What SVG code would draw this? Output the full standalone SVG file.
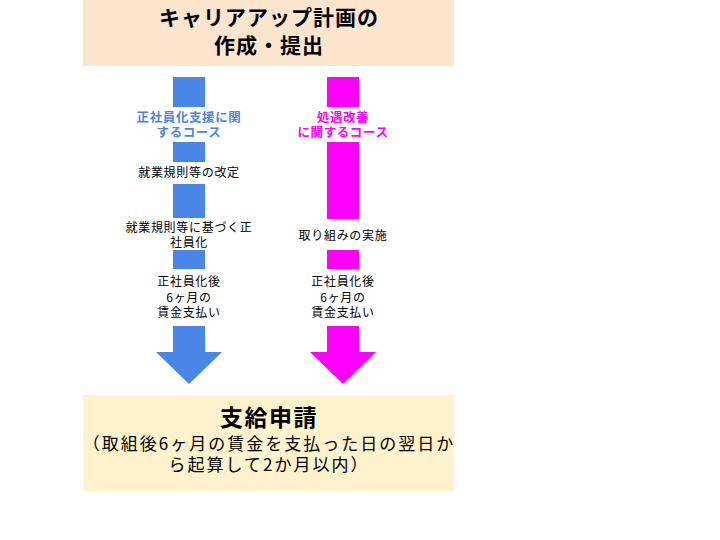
<svg xmlns="http://www.w3.org/2000/svg" width="720" height="540" viewBox="0 0 720 540">
<style>
text{font-family:"Noto Sans CJK JP","Liberation Sans",sans-serif;text-anchor:middle;fill:#000}
.title{font-size:21px;font-weight:bold;letter-spacing:1px}
.sm{font-size:12px;letter-spacing:0.7px}
.bl{font-size:12.5px;font-weight:bold;fill:#4a86e8;letter-spacing:0.6px}
.mg{font-size:12.5px;font-weight:bold;fill:#ff00ff;letter-spacing:0.6px}
.sub{font-size:17px;letter-spacing:2px}
.blue{fill:#4a86e8}
.mag{fill:#ff00ff}
</style>
<rect width="720" height="540" fill="#fff"/>
<g id="top">
<rect x="83" y="0" width="371" height="66" fill="#fce5cd"/>
<text class="title" x="269" y="25">キャリアアップ計画の</text>
<text class="title" x="269" y="53">作成・提出</text>
</g>
<g id="connectors">
<rect class="blue" x="173" y="77" width="32" height="30"/>
<rect class="blue" x="173" y="142" width="32" height="20"/>
<rect class="blue" x="173" y="184" width="32" height="34"/>
<rect class="blue" x="173" y="250" width="32" height="19"/>
<polygon class="blue" points="173,326 205,326 205,352 222,352 189,384 156,352 173,352"/>
<rect class="mag" x="327" y="77" width="32" height="30"/>
<rect class="mag" x="327" y="142" width="32" height="77"/>
<rect class="mag" x="327" y="250" width="32" height="19"/>
<polygon class="mag" points="327,326 359,326 359,352 376,352 343,384 310,352 327,352"/>
</g>
<g id="blue-course">
<text class="bl" x="189" y="122">正社員化支援に関</text>
<text class="bl" x="189" y="137">するコース</text>
<text class="sm" x="189" y="177">就業規則等の改定</text>
<text class="sm" x="189" y="232">就業規則等に基づく正</text>
<text class="sm" x="189" y="247">社員化</text>
<text class="sm" x="189" y="286">正社員化後</text>
<text class="sm" x="189" y="302">6ヶ月の</text>
<text class="sm" x="189" y="317">賃金支払い</text>
</g>
<g id="mag-course">
<text class="mg" x="343" y="122">処遇改善</text>
<text class="mg" x="343" y="137">に関するコース</text>
<text class="sm" x="343" y="240">取り組みの実施</text>
<text class="sm" x="343" y="286">正社員化後</text>
<text class="sm" x="343" y="302">6ヶ月の</text>
<text class="sm" x="343" y="317">賃金支払い</text>
</g>
<g id="bottom">
<rect x="83" y="395" width="371" height="96" fill="#fff2cc"/>
<text class="title" x="269" y="426" style="font-size:23px;letter-spacing:1.5px">支給申請</text>
<text class="sub" x="269" y="450">（取組後6ヶ月の賃金を支払った日の翌日か</text>
<text class="sub" x="269" y="471">ら起算して2か月以内）</text>
</g>
</svg>
